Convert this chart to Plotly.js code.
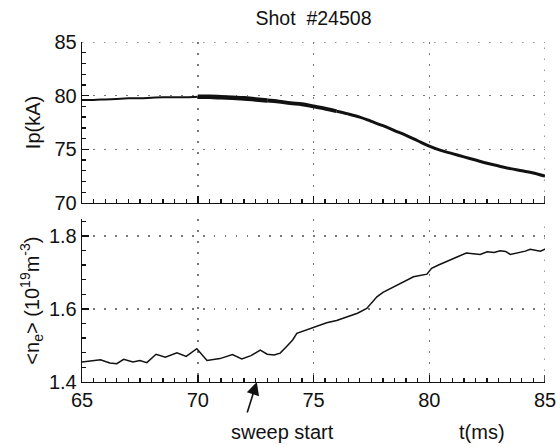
<!DOCTYPE html>
<html>
<head>
<meta charset="utf-8">
<script src="https://cdn.plot.ly/plotly-3.0.1.min.js"></script>
<style>html,body{margin:0;padding:0;background:#fff;}#chart{width:557px;height:447px;}</style>
</head>
<body>
<div id="chart"></div>
<script>
// Plasma current Ip (kA) vs time (ms)
const ipTime = [65, 65.5, 66, 66.5, 67, 67.5, 68, 68.5, 69, 69.5, 70, 70.5, 71, 71.5, 72, 72.5, 73, 73.5, 74, 74.5, 75, 75.5, 76, 76.5, 77, 77.5, 78, 78.5, 79, 79.5, 80, 80.5, 81, 81.5, 82, 82.5, 83, 83.5, 84, 84.5, 85];
const ipValue = [79.6, 79.6, 79.65, 79.7, 79.75, 79.75, 79.8, 79.85, 79.85, 79.85, 79.9, 79.9, 79.85, 79.8, 79.75, 79.65, 79.55, 79.45, 79.3, 79.2, 79.0, 78.8, 78.55, 78.3, 78.0, 77.6, 77.2, 76.75, 76.3, 75.8, 75.3, 74.9, 74.6, 74.3, 74.0, 73.7, 73.45, 73.2, 73.0, 72.8, 72.5];

// Line-averaged density <ne> (1e19 m^-3) vs time (ms)
const neTime = [65, 65.35, 65.8, 66.2, 66.5, 66.8, 67.2, 67.5, 67.8, 68.2, 68.6, 69.1, 69.5, 69.96, 70.4, 70.96, 71.5, 71.9, 72.3, 72.7, 73.0, 73.3, 73.56, 73.85, 74.1, 74.28, 74.6, 74.85, 75.2, 75.57, 76.0, 76.44, 76.9, 77.3, 77.5, 77.74, 78.0, 78.3, 78.6, 79.0, 79.32, 79.9, 80.1, 80.4, 80.76, 81.2, 81.6, 81.9, 82.2, 82.5, 82.8, 83.06, 83.3, 83.5, 83.7, 83.93, 84.15, 84.36, 84.6, 84.8, 85];
const neValue = [1.455, 1.457, 1.461, 1.452, 1.450, 1.462, 1.455, 1.459, 1.453, 1.476, 1.468, 1.480, 1.470, 1.491, 1.459, 1.464, 1.475, 1.463, 1.472, 1.487, 1.476, 1.474, 1.479, 1.498, 1.515, 1.533, 1.540, 1.546, 1.552, 1.562, 1.568, 1.578, 1.588, 1.601, 1.615, 1.633, 1.645, 1.655, 1.665, 1.678, 1.688, 1.695, 1.711, 1.720, 1.729, 1.742, 1.753, 1.750, 1.749, 1.756, 1.754, 1.759, 1.757, 1.749, 1.752, 1.754, 1.758, 1.763, 1.760, 1.758, 1.763];

const xRange = [65, 85];
const ipRange = [70, 85];
const neRange = [1.4, 1.8455];
const xTickStart = 65, xTickStep = 5;
const ipTickStart = 70, ipTickStep = 5;
const neTickStart = 1.4, neTickStep = 0.2;

const sweepStart = 72.55;
const titleText = 'Shot\u00a0\u00a0#24508';

// segments of the Ip trace: the signal is noisier (drawn thicker) after 70 ms
function seg(xs, ys, a, b) {
  const x = [], y = [];
  for (let i = 0; i < xs.length; i++) if (xs[i] >= a && xs[i] <= b) { x.push(xs[i]); y.push(ys[i]); }
  return {x, y};
}
const segments = [
  {range: [65, 70], width: 2},
  {range: [70, 73], width: 4.6},
  {range: [73, 76], width: 3.8},
  {range: [76, 85], width: 3}
];

const FONT = 'Liberation Sans, Arial, Helvetica, sans-serif';
const INK = '#111';
const traces = segments.map(s => {
  const d = seg(ipTime, ipValue, s.range[0], s.range[1]);
  return {x: d.x, y: d.y, xaxis: 'x', yaxis: 'y', mode: 'lines', line: {color: INK, width: s.width, shape: 'spline'}, hoverinfo: 'skip'};
});
traces.push({x: neTime, y: neValue, xaxis: 'x2', yaxis: 'y2', mode: 'lines', line: {color: INK, width: 1.5}, hoverinfo: 'skip'});

const GRIDCOLOR = '#777', GRIDDASH = '1.5px,9.5px';
function axis(extra, minor) {
  return Object.assign({
    showline: true, linecolor: INK, linewidth: 1.3,
    ticks: 'inside', ticklen: 7, tickcolor: INK, tickwidth: 1.5,
    showgrid: true, gridcolor: GRIDCOLOR, griddash: GRIDDASH, gridwidth: 1.5,
    zeroline: false,
    tickfont: {family: FONT, size: 20, color: INK},
    minor: Object.assign({ticks: 'inside', ticklen: 4, tickcolor: INK, tickwidth: 1.3, showgrid: false}, minor)
  }, extra);
}

// dotted grid lines on the far edges (Plotly omits grid lines at range ends) and the end tick at 85 ms
const edgeLine = {color: GRIDCOLOR, width: 1.5, dash: GRIDDASH};
const endTick = {color: INK, width: 1.5};
const shapes = [
  {type: 'line', xref: 'x', yref: 'y', x0: xRange[0], x1: xRange[1], y0: ipRange[1], y1: ipRange[1], line: edgeLine, layer: 'below'},
  {type: 'line', xref: 'x', yref: 'y', x0: xRange[1], x1: xRange[1], y0: ipRange[0], y1: ipRange[1], line: edgeLine, layer: 'below'},
  {type: 'line', xref: 'x2', yref: 'y2', x0: xRange[1], x1: xRange[1], y0: neRange[0], y1: neRange[1], line: edgeLine, layer: 'below'},
  {type: 'line', xref: 'x', yref: 'y domain', x0: xRange[1], x1: xRange[1], y0: 0, y1: 0.043, line: endTick},
  {type: 'line', xref: 'x2', yref: 'y2 domain', x0: xRange[1], x1: xRange[1], y0: 0, y1: 0.043, line: endTick}
];

const layout = {
  width: 557, height: 447,
  margin: {l: 82, r: 12, t: 42, b: 65},
  paper_bgcolor: '#fff', plot_bgcolor: '#fff',
  showlegend: false,
  font: {family: FONT, color: INK},
  title: {text: titleText, x: 0.5, xref: 'paper', xanchor: 'center', y: 0.96, yref: 'container', yanchor: 'middle', font: {family: FONT, size: 19.5, color: INK}},
  xaxis: axis({domain: [0, 1], anchor: 'y', range: xRange, tickmode: 'linear', tick0: xTickStart, dtick: xTickStep, showticklabels: false}, {dtick: 0.5, tick0: 65}),
  yaxis: axis({domain: [0.5265, 1], anchor: 'x', range: ipRange, tickmode: 'linear', tick0: ipTickStart, dtick: ipTickStep,
    title: {text: 'Ip(kA)', font: {family: FONT, size: 20, color: INK}, standoff: 8}}, {dtick: 1, tick0: 70}),
  xaxis2: axis({domain: [0, 1], anchor: 'y2', range: xRange, tickmode: 'linear', tick0: xTickStart, dtick: xTickStep}, {dtick: 0.5, tick0: 65}),
  yaxis2: axis({domain: [0, 0.479], anchor: 'x2', range: neRange, tickmode: 'linear', tick0: neTickStart, dtick: neTickStep, tickformat: '.1f',
    title: {text: '<n<sub>e</sub>> (10<sup>19</sup>m<sup>-3</sup>)', font: {family: FONT, size: 20, color: INK}, standoff: 4}}, {dtick: 0.04, tick0: 1.4}),
  shapes: shapes,
  annotations: [
    {x: sweepStart, y: 1.4, xref: 'x2', yref: 'y2', ax: -10, ay: 32, axref: 'pixel', ayref: 'pixel', text: '', showarrow: true,
     arrowhead: 2, arrowsize: 1.6, arrowwidth: 1.6, arrowcolor: INK, standoff: 0},
    {x: 73.64, y: -0.147, xref: 'x2', yref: 'paper', text: 'sweep start', showarrow: false, xanchor: 'center', yanchor: 'middle',
     font: {family: FONT, size: 20, color: INK}},
    {x: 82.29, y: -0.147, xref: 'x2', yref: 'paper', text: 't(ms)', showarrow: false, xanchor: 'center', yanchor: 'middle',
     font: {family: FONT, size: 20, color: INK}}
  ]
};

Plotly.newPlot('chart', traces, layout, {staticPlot: true, displayModeBar: false});
</script>
</body>
</html>
